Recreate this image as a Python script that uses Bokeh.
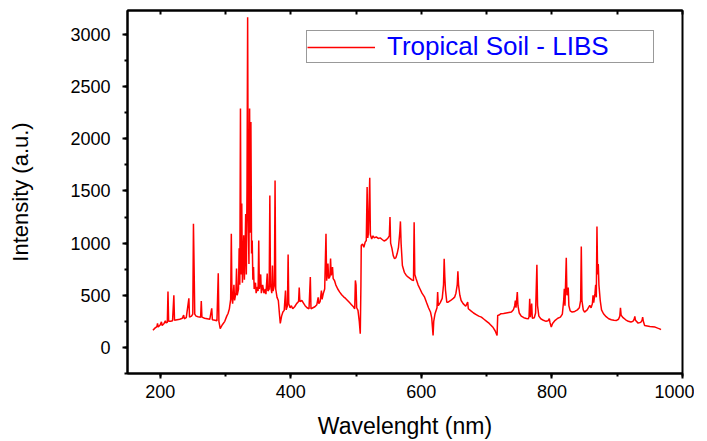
from bokeh.plotting import figure
from bokeh.models import (ColumnDataSource, Range1d, SingleIntervalTicker, LinearAxis,
                          Legend, LegendItem)
from bokeh.embed import file_html
from bokeh.resources import INLINE

# ---- data ----
wavelength_nm = [
    189, 192, 195, 196, 197, 200, 202, 203, 206, 208, 209, 211, 212, 213, 216, 219, 221, 222,
    226, 230, 234, 236, 237, 240, 244, 245, 248, 250, 251, 252, 253, 255, 258, 262, 263, 264,
    268, 272, 276, 279, 280, 284, 287, 289, 290, 292, 295, 299, 302, 304, 306, 308, 309, 310,
    311, 313, 314, 316, 317, 318, 320, 321, 322, 323, 324, 325, 326, 327, 328, 329, 330, 331,
    332, 333, 334, 335, 336, 337, 338, 339, 340, 341, 342, 343, 344, 346, 347, 349, 350, 351,
    352, 354, 355, 357, 359, 361, 362, 364, 365, 367, 368, 369, 371, 372, 373, 375, 376, 377,
    379, 381, 383, 384, 386, 388, 390, 392, 393, 395, 396, 397, 399, 401,
    403, 406, 409, 412, 413, 414, 417, 420, 422, 425, 428, 430, 431, 434, 437, 440, 442, 443,
    445, 447, 448, 450, 452, 454, 455, 457, 458, 460, 461, 462, 464, 465, 467, 469, 472, 475,
    478, 481, 484, 487, 490, 493, 496, 498, 499, 500, 501, 503, 505, 506.5, 507.5, 508,
    510, 512, 514, 515.7, 517, 518, 519, 521, 522, 524, 526, 528, 531, 534, 537, 540, 543, 546,
    549, 551, 552, 553, 555, 557, 559, 561, 563, 565, 567, 568, 569, 571, 574, 577, 580, 583,
    586, 588, 589, 590, 592, 595, 598, 601, 605, 608, 611, 614, 616, 618, 619, 621, 624, 625,
    626, 629, 632, 634, 635, 636, 637, 639,
    641, 645, 649, 651, 653, 655, 656, 657, 659, 661, 664, 668, 671, 672, 676, 680, 684, 688,
    692, 696, 700, 704, 707, 710, 713, 716, 717, 719, 722, 726, 730, 734, 738, 741, 743, 744,
    745, 747, 748, 750, 753, 757, 761, 764, 765, 766, 767, 769, 770, 773, 775, 777, 778, 780,
    783, 787, 791, 794, 796, 797, 799, 801, 805, 809, 813, 816, 818, 819, 820, 822, 823, 825,
    826, 828, 831, 835, 839, 842, 844, 845, 846, 848, 850, 854, 858, 860, 862, 863, 864, 866,
    867, 868, 869, 870, 871, 872, 874, 876, 879, 883, 887, 891, 895, 899, 902, 904, 905, 906,
    909, 913, 917, 921, 924, 926, 927, 928, 932, 936, 938, 939, 940, 942, 946, 950, 954, 958,
    962, 965, 967,
]
intensity_au = [
    165, 185, 200, 230, 195, 215, 245, 210, 230, 255, 235, 240, 537, 250, 250, 255, 500, 260,
    265, 270, 280, 310, 275, 285, 470, 290, 300, 320, 1185, 770, 320, 300, 295, 290, 445, 290,
    280, 275, 270, 375, 265, 260, 255, 712, 250, 180, 215, 250, 300, 325, 370, 460, 1090, 480,
    420, 600, 450, 520, 757, 500, 560, 950, 600, 2290, 700, 1380, 620, 800, 1075, 650, 900, 1280,
    700, 1500, 3166, 1200, 800, 2290, 1100, 2160, 900, 1025, 650, 770, 560, 620, 520, 580, 540, 1025,
    560, 700, 520, 600, 520, 560, 510, 708, 540, 560, 1457, 600, 520, 786, 540, 600, 1600, 560,
    480, 450, 300, 230, 300, 340, 355, 546, 360, 400, 890, 420, 380, 400,
    370, 390, 420, 440, 575, 440, 450, 420, 400, 380, 370, 674, 370, 380, 390, 410, 480, 420,
    440, 546, 460, 520, 560, 1090, 640, 805, 660, 680, 853, 690, 770, 660, 642, 600, 560, 530,
    505, 485, 470, 450, 430, 410, 390, 370, 642, 600, 380, 355, 250, 131, 600, 978,
    990, 960, 1010, 1025, 1537, 1050, 1100, 1626, 1080, 1040, 1070, 1050, 1060, 1045, 1050, 1035, 1020, 1030,
    1050, 1070, 1249, 1000, 950, 880, 850, 860, 900, 960, 1100, 1208, 1000, 786, 720, 690, 674, 660,
    645, 640, 1201, 700, 658, 600, 560, 520, 482, 430, 380, 340, 280, 115, 250, 323, 380, 530,
    400, 430, 470, 600, 850, 674, 550, 434,
    434, 450, 470, 482, 520, 600, 731, 600, 500, 450, 420, 395, 434, 371, 350, 330, 315, 300,
    290, 270, 250, 230, 210, 190, 160, 115, 307, 310, 323, 325, 330, 335, 339, 360, 400, 450,
    380, 530, 400, 330, 300, 285, 278, 275, 300, 467, 290, 420, 280, 285, 330, 793, 400, 300,
    275, 260, 250, 255, 275, 240, 195, 230, 260, 280, 290, 320, 450, 562, 400, 860, 500, 575,
    400, 350, 339, 345, 360, 380, 450, 968, 450, 360, 339, 360, 403, 380, 420, 500, 430, 520,
    600, 480, 1160, 700, 800, 600, 450, 360, 323, 295, 275, 265, 260, 259, 270, 300, 380, 310,
    285, 265, 250, 243, 250, 270, 297, 260, 233, 240, 260, 290, 250, 210, 205, 200, 198, 195,
    185, 178, 170,
]
x_ticks_interval = 200
y_ticks_interval = 500
series_label = "Tropical Soil - LIBS"

src = ColumnDataSource(data=dict(x=wavelength_nm, y=intensity_au))

p = figure(frame_width=555, frame_height=363,
           min_border_left=127, min_border_right=12, min_border_top=10, min_border_bottom=56,
           x_range=Range1d(150, 1000), y_range=Range1d(-250, 3230),
           output_backend="svg", toolbar_location=None, tools="")

r = p.line("x", "y", source=src, line_color="#ff0000", line_width=1.5)

p.xgrid.visible = False
p.ygrid.visible = False
p.outline_line_color = "black"
p.outline_line_width = 2
p.outline_line_alpha = 1

tick_font = "Liberation Sans"
for ax in (p.xaxis[0], p.yaxis[0]):
    ax.axis_line_width = 2
    ax.major_tick_line_width = 2
    ax.minor_tick_line_width = 2
    ax.major_tick_in = 0
    ax.major_tick_out = 5
    ax.minor_tick_in = 0
    ax.minor_tick_out = 3
    ax.major_label_text_font = tick_font
    ax.major_label_text_font_size = "18px"
    ax.major_label_text_color = "black"
    ax.axis_label_text_font = tick_font
    ax.axis_label_text_font_style = "normal"
    ax.axis_label_text_color = "black"

p.xaxis[0].ticker = SingleIntervalTicker(interval=x_ticks_interval, num_minor_ticks=2)
p.yaxis[0].ticker = SingleIntervalTicker(interval=y_ticks_interval, num_minor_ticks=2)
p.xaxis[0].axis_label = "Wavelenght (nm)"
p.yaxis[0].axis_label = "Intensity (a.u.)"
p.xaxis[0].axis_label_text_font_size = "23px"
p.yaxis[0].axis_label_text_font_size = "22px"
p.xaxis[0].major_label_standoff = 6
p.xaxis[0].axis_label_standoff = 12
p.yaxis[0].major_label_standoff = 12
p.yaxis[0].axis_label_standoff = 34

top = LinearAxis(ticker=SingleIntervalTicker(interval=100, num_minor_ticks=0),
                 major_label_text_font_size="1px", major_label_text_color=None,
                 major_label_standoff=0,
                 major_tick_in=4, major_tick_out=0, major_tick_line_width=2,
                 minor_tick_line_color=None, axis_line_width=2)
p.add_layout(top, "above")

legend = Legend(items=[LegendItem(label=series_label, renderers=[r])],
                location=(179, 310), glyph_width=68, glyph_height=20,
                label_standoff=12, label_text_font=tick_font, label_text_font_size="26px",
                label_text_color="#0000ff", label_width=266, label_height=20,
                padding=0, margin=0, spacing=0,
                border_line_color="#333333", border_line_width=1.5,
                background_fill_color="white", background_fill_alpha=1)
p.add_layout(legend, "center")

open("out.html", "w").write(file_html(p, INLINE))
